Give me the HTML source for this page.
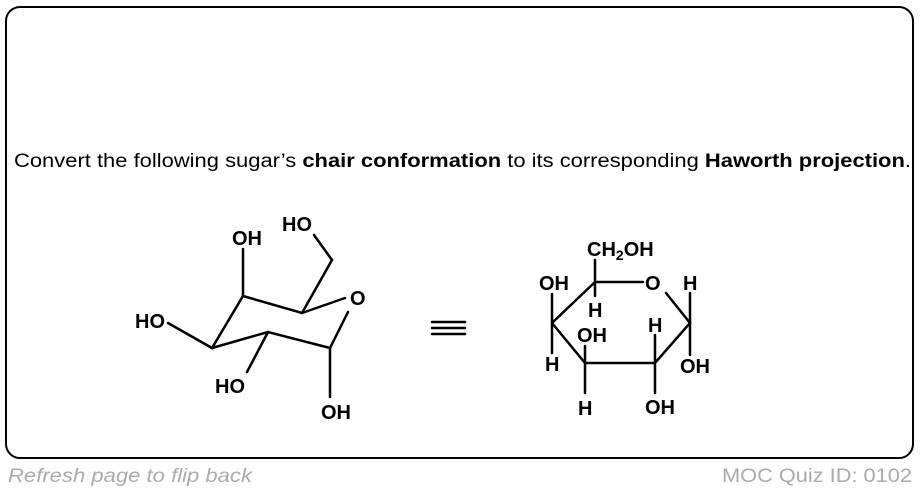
<!DOCTYPE html>
<html><head><meta charset="utf-8"><style>
html,body{margin:0;padding:0;background:#fff;}
svg{display:block}
text{font-family:"Liberation Sans",Arial,sans-serif;}
</style></head><body>
<svg width="920" height="492" viewBox="0 0 920 492" xmlns="http://www.w3.org/2000/svg">
<rect x="6" y="7" width="907" height="451" rx="14" ry="14" fill="#fff" stroke="#000" stroke-width="2"/>
<text x="14" y="167" font-size="19" textLength="897" lengthAdjust="spacingAndGlyphs">Convert the following sugar’s <tspan font-weight="bold">chair conformation</tspan> to its corresponding <tspan font-weight="bold">Haworth projection</tspan>.</text>
<text x="8" y="482" font-size="19" font-style="italic" fill="#aaa" textLength="244" lengthAdjust="spacingAndGlyphs">Refresh page to flip back</text>
<text x="722" y="482" font-size="19" fill="#aaa" textLength="190" lengthAdjust="spacingAndGlyphs">MOC Quiz ID: 0102</text>

<g stroke="#000" stroke-width="2.5" fill="none" stroke-linecap="round">
<polyline points="243,249 243,296 302,313 345,298"/>
<polyline points="302,313 332,260 314,235"/>
<polyline points="243,296 212,348 168,323"/>
<polyline points="212,348 268,332 330,348 348,312"/>
<polyline points="268,332 247,372"/>
<polyline points="330,348 330,397"/>
<line x1="432" y1="322" x2="465" y2="322"/>
<line x1="432" y1="328" x2="465" y2="328"/>
<line x1="432" y1="334" x2="465" y2="334"/>
<line x1="595" y1="260" x2="595" y2="296"/>
<line x1="595" y1="282" x2="643" y2="282"/>
<polyline points="666,293 690,323 655,363 585,363 552,323 595,282"/>
<line x1="690" y1="293" x2="690" y2="355"/>
<line x1="655" y1="335" x2="655" y2="393"/>
<line x1="585" y1="346" x2="585" y2="393"/>
<line x1="552" y1="294" x2="552" y2="353"/>
</g>
<g font-size="20" font-weight="bold" fill="#000">
<text x="232" y="245">OH</text>
<text x="282" y="231">HO</text>
<text x="350" y="305">O</text>
<text x="135" y="328">HO</text>
<text x="215" y="393">HO</text>
<text x="321" y="419">OH</text>

<text x="587" y="256">CH<tspan font-size="14" dy="4">2</tspan><tspan dy="-4">OH</tspan></text>
<text x="539" y="290">OH</text>
<text x="588" y="317">H</text>
<text x="645" y="290">O</text>
<text x="683" y="290">H</text>
<text x="648" y="332">H</text>
<text x="577" y="342">OH</text>
<text x="545" y="371">H</text>
<text x="680" y="373">OH</text>
<text x="578" y="415">H</text>
<text x="645" y="414">OH</text>
</g>
</svg>
</body></html>
